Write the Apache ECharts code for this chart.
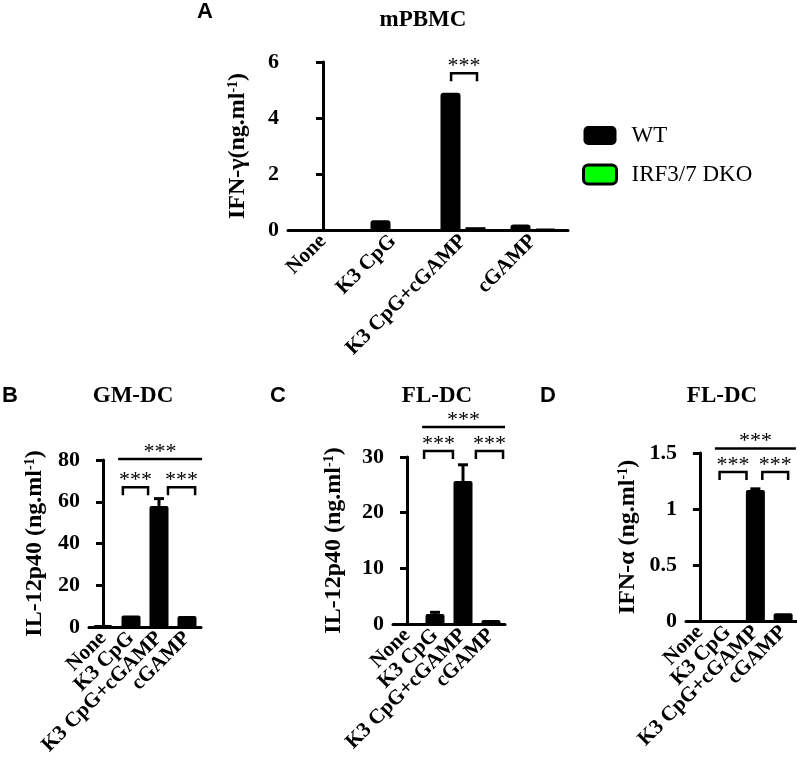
<!DOCTYPE html>
<html>
<head>
<meta charset="utf-8">
<script src="https://cdn.jsdelivr.net/npm/echarts@6/dist/echarts.min.js"></script>
<style>
  html, body { margin: 0; padding: 0; background: #fff; }
  #fig { width: 797px; height: 761px; }
</style>
</head>
<body>
<div id="fig"></div>
<script>
  // values
  let categories = ['None', 'K3 CpG', 'K3 CpG+cGAMP', 'cGAMP']
  let ifngWT = [0, 0.35, 4.9, 0.2]
  let ifngKO = [0, 0, 0.1, 0.05]
  let il12GM = [1, 5.5, 58, 5.3]
  let il12GMErr = [0, 0, 3.5, 0]
  let il12FL = [0, 1.8, 25.7, 0.7]
  let il12FLErr = [0, 0.3, 2.9, 0]
  let ifnaFL = [0, 0, 1.17, 0.07]
  let ifnaFLErr = [0, 0, 0.01, 0]
  // significance marks: [from, to, y, hasLegs] in category-index units
  let sigA = [[1.83, 2.2, 5.6, 1]]
  let sigB = [[0.71, 1.61, 67, 1], [2.32, 3.29, 67, 1], [0.54, 3.54, 80.5, 0]]
  let sigC = [[0.61, 1.64, 31.1, 1], [2.46, 3.43, 31.1, 1], [0.54, 3.5, 35.4, 0]]
  let sigD = [[0.71, 1.68, 1.33, 1], [2.25, 3.18, 1.33, 1], [0.54, 3.46, 1.54, 0]]

  const serif = '"Liberation Serif", "Times New Roman", serif'
  const sans = '"Liberation Sans", Arial, sans-serif'

  let myChart = echarts.init(document.getElementById('fig'))

  function xCat(grid) {
    return {
      type: 'category', gridIndex: grid, data: categories,
      axisLine: {lineStyle: {color: '#000', width: 3}},
      axisTick: {alignWithLabel: true, length: 6, lineStyle: {color: '#000', width: 3}},
      axisLabel: {rotate: 45, interval: 0, margin: 8, color: '#000',
        fontFamily: serif, fontWeight: 'bold', fontSize: 21}
    }
  }
  // hidden linear axis so that annotations can sit between categories
  function xVal(grid) {
    return {type: 'value', gridIndex: grid, min: -0.5, max: 3.5, show: false, splitLine: {show: false}}
  }
  function yAx(grid, max, step, label, gap) {
    return {
      type: 'value', gridIndex: grid, min: 0, max: max, interval: step,
      name: label, nameLocation: 'middle', nameGap: gap, nameRotate: 90,
      nameTextStyle: {
        rich: {
          t: {fontFamily: serif, fontWeight: 'bold', fontSize: 24, color: '#000'},
          s: {fontFamily: serif, fontWeight: 'bold', fontSize: 14, color: '#000', verticalAlign: 'top'}
        }
      },
      axisLine: {show: true, lineStyle: {color: '#000', width: 3}},
      axisTick: {show: true, length: 7, lineStyle: {color: '#000', width: 3}},
      axisLabel: {margin: 9, color: '#000', fontFamily: serif, fontWeight: 'bold', fontSize: 22},
      splitLine: {show: false}
    }
  }

  function errRender(params, api) {
    let m = api.value(1), e = api.value(2)
    if (!e) return
    let base = api.coord([api.value(0), m])
    let top = api.coord([api.value(0), m + e])
    return {
      type: 'group', children: [
        {type: 'line', shape: {x1: base[0], y1: base[1], x2: top[0], y2: top[1]}, style: {stroke: '#000', lineWidth: 3}},
        {type: 'line', shape: {x1: top[0] - 5, y1: top[1], x2: top[0] + 5, y2: top[1]}, style: {stroke: '#000', lineWidth: 3}}
      ]
    }
  }
  function sigRender(params, api) {
    let p1 = api.coord([api.value(0), api.value(2)])
    let p2 = api.coord([api.value(1), api.value(2)])
    let leg = api.value(3) ? 8 : 0
    return {
      type: 'group', children: [
        {type: 'polyline', shape: {points: [[p1[0], p1[1] + leg], p1, p2, [p2[0], p2[1] + leg]]},
          style: {stroke: '#000', lineWidth: 2.5, fill: null}},
        {type: 'text', x: (p1[0] + p2[0]) / 2, y: p1[1] + 4,
          style: {text: '***', fill: '#000', fontFamily: serif, fontSize: 22, textAlign: 'center', textVerticalAlign: 'bottom'}}
      ]
    }
  }
  function errSeries(grid, vals, errs) {
    return {type: 'custom', xAxisIndex: grid + 4, yAxisIndex: grid, z: 5,
      renderItem: errRender, data: vals.map((v, i) => [i, v, errs[i]])}
  }
  function sigSeries(grid, marks) {
    return {type: 'custom', xAxisIndex: grid + 4, yAxisIndex: grid, z: 5,
      renderItem: sigRender, data: marks}
  }
  function oneBar(grid, vals) {
    return {type: 'bar', xAxisIndex: grid, yAxisIndex: grid, barWidth: 19, data: vals,
      itemStyle: {color: '#000', borderRadius: [2, 2, 0, 0]}}
  }
  function txt(s, x, y, font, size, align, weight) {
    return {type: 'text', x: x, y: y,
      style: {text: s, fontFamily: font, fontSize: size, fontWeight: weight || 'bold', fill: '#000',
        textAlign: align || 'left', textVerticalAlign: 'middle'}}
  }

  myChart.setOption({
    animation: false,
    backgroundColor: '#fff',
    grid: [
      {left: 288, top: 62, width: 280, height: 168},
      {left: 89, top: 460, width: 112, height: 167},
      {left: 393, top: 457, width: 112, height: 167},
      {left: 686, top: 453, width: 112, height: 168}
    ],
    xAxis: [xCat(0), xCat(1), xCat(2), xCat(3), xVal(0), xVal(1), xVal(2), xVal(3)],
    yAxis: [
      yAx(0, 6, 2, '{t|IFN-γ(ng.ml}{s|-1}{t|)}', 38),
      yAx(1, 80, 20, '{t|IL-12p40 (ng.ml}{s|-1}{t|)}', 42),
      yAx(2, 30, 10, '{t|IL-12p40 (ng.ml}{s|-1}{t|)}', 47),
      yAx(3, 1.5, 0.5, '{t|IFN-α (ng.ml}{s|-1}{t|)}', 46)
    ],
    legend: {
      orient: 'vertical', left: 577, top: 119, itemWidth: 33, itemHeight: 19, itemGap: 16,
      icon: 'roundRect',
      textStyle: {fontFamily: serif, fontSize: 23, color: '#000', padding: [0, 0, 0, 10]},
      data: ['WT', {name: 'IRF3/7 DKO', itemStyle: {borderColor: '#000', borderWidth: 3}}]
    },
    graphic: [
      txt('A', 197, 12, sans, 22),
      txt('mPBMC', 423, 20, serif, 23, 'center'),
      txt('B', 2, 396, sans, 22),
      txt('GM-DC', 133, 396, serif, 23, 'center'),
      txt('C', 270, 396, sans, 22),
      txt('FL-DC', 437, 396, serif, 23, 'center'),
      txt('D', 540, 396, sans, 22),
      txt('FL-DC', 722, 396, serif, 23, 'center')
    ],
    series: [
      {name: 'WT', type: 'bar', xAxisIndex: 0, yAxisIndex: 0, barWidth: 20, barGap: '25%', data: ifngWT,
        itemStyle: {color: '#000', borderRadius: [3, 3, 0, 0]}},
      {name: 'IRF3/7 DKO', type: 'bar', xAxisIndex: 0, yAxisIndex: 0, barWidth: 20, data: ifngKO,
        itemStyle: {color: '#00ff00', borderColor: '#000', borderWidth: 1.5}},
      sigSeries(0, sigA),
      oneBar(1, il12GM), errSeries(1, il12GM, il12GMErr), sigSeries(1, sigB),
      oneBar(2, il12FL), errSeries(2, il12FL, il12FLErr), sigSeries(2, sigC),
      oneBar(3, ifnaFL), errSeries(3, ifnaFL, ifnaFLErr), sigSeries(3, sigD)
    ]
  })
</script>
</body>
</html>
